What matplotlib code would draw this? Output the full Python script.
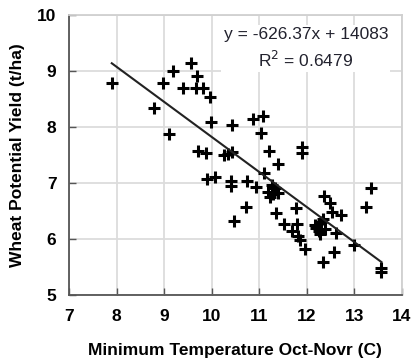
import matplotlib
matplotlib.use("Agg")
import matplotlib.pyplot as plt
import numpy as np

# minimum temperature Oct-Nov (C) vs wheat potential yield (t/ha)
temp = [7.90, 8.79, 8.98, 9.19, 9.11, 9.56, 9.40, 9.70, 9.68, 9.81,
        9.96, 9.98, 10.42, 9.72, 9.89, 10.26, 10.35, 10.42, 10.87, 11.07,
        11.03, 11.20, 11.89, 11.89, 9.91, 10.07, 10.40, 10.40, 10.47, 10.73,
        10.75, 10.94, 11.10, 11.40, 11.26, 11.19, 11.33, 11.40, 11.22, 11.29,
        11.36, 11.52, 11.68, 11.78, 11.80, 11.82, 11.85, 11.97, 12.36, 12.48,
        12.54, 12.73, 12.20, 12.25, 12.30, 12.34, 12.28, 12.18, 12.38, 12.62,
        12.57, 12.34, 12.99, 13.24, 13.36, 13.57, 13.57]
yld = [8.79, 8.33, 8.79, 9.00, 7.87, 9.14, 8.70, 8.91, 8.70, 8.70,
       8.54, 8.09, 8.03, 7.57, 7.54, 7.50, 7.52, 7.55, 8.13, 8.20,
       7.89, 7.57, 7.64, 7.54, 7.06, 7.10, 7.03, 6.94, 6.32, 6.56,
       7.03, 6.92, 7.17, 7.34, 6.96, 6.84, 6.90, 6.81, 6.75, 6.80,
       6.46, 6.27, 6.14, 6.55, 6.27, 6.05, 5.97, 5.82, 6.76, 6.64,
       6.47, 6.43, 6.20, 6.14, 6.30, 6.36, 6.09, 6.24, 6.18, 6.10,
       5.76, 5.59, 5.89, 6.57, 6.91, 5.47, 5.41]

# trend line as printed on the chart (kg/ha)
slope = -626.37
intercept = 14083
r2 = 0.6479

x_ticks = [7, 8, 9, 10, 11, 12, 13, 14]
y_ticks = [5, 6, 7, 8, 9, 10]

plt.rcParams['font.family'] = ['Liberation Sans', 'DejaVu Sans']

fig = plt.figure(figsize=(4.13, 3.62), dpi=100)
ax = fig.add_axes([0.167, 0.186, 0.806, 0.773])

ax.grid(True, color='#dcdcdc', linewidth=1.3, zorder=0)
ax.set_axisbelow(True)

ax.plot(temp, yld, '+', color='black', markersize=8.5, markeredgewidth=2.2, zorder=3)

xl = np.array([min(temp), max(temp)])
ax.plot(xl, (slope * xl + intercept) / 1000, color='#222222', linewidth=1.5, zorder=4)

ax.text(11.98, 9.40, f"y = {slope:.2f}x + {intercept}\nR$^2$ = {r2}",
        ha='center', va='center', fontsize=12.5, color='#22222e', linespacing=1.5,
        bbox=dict(facecolor='white', edgecolor='none', pad=1.5), zorder=5)

ax.set_xlim(7, 14)
ax.set_ylim(5, 10)
ax.set_xticks(x_ticks)
ax.set_yticks(y_ticks)
ax.tick_params(direction='in', length=5, width=1, color='#555555',
               labelsize=12.5)
ax.tick_params(axis='x', pad=10)
ax.tick_params(axis='y', pad=9)
for lab in ax.get_xticklabels() + ax.get_yticklabels():
    lab.set_fontweight('bold')

for s in ['left', 'bottom']:
    ax.spines[s].set_color('#555555')
    ax.spines[s].set_linewidth(1.3)
for s in ['top', 'right']:
    ax.spines[s].set_color('#d0d0d0')
    ax.spines[s].set_linewidth(1.3)

ax.set_xlabel('Minimum Temperature Oct-Novr (C)', fontsize=12.5, fontweight='bold', labelpad=14)
ax.set_ylabel('Wheat Potential Yield (t/ha)', fontsize=12.5, fontweight='bold', labelpad=9)

fig.savefig('out.png', dpi=100)
